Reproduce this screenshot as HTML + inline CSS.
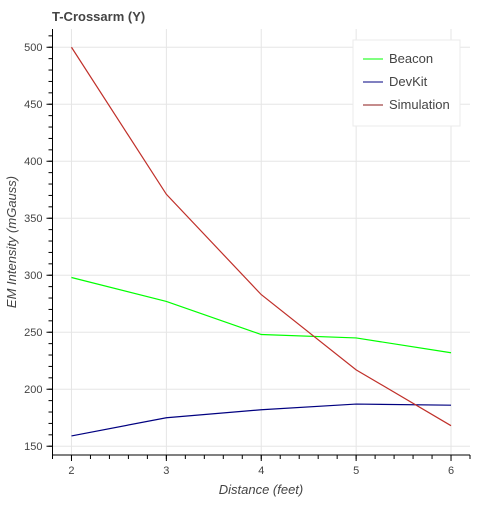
<!DOCTYPE html>
<html><head><meta charset="utf-8"><style>
body{margin:0;background:#fff;}
svg text{font-family:"Liberation Sans",sans-serif;}
</style></head><body>
<svg id="chart" width="500" height="500" xmlns="http://www.w3.org/2000/svg">
<text x="52" y="21" font-size="13" font-weight="bold" fill="#444">T-Crossarm (Y)</text>
<g id="grid"></g><g id="series"></g><g id="axes"></g>
<text x="261" y="494" font-size="13" font-style="italic" fill="#444" text-anchor="middle">Distance (feet)</text>
<text transform="translate(16,242) rotate(-90)" font-size="13" font-style="italic" fill="#444" text-anchor="middle">EM Intensity (mGauss)</text>
<g>
<rect x="353" y="40" width="107" height="86" fill="#fff" stroke="#ebebeb"/>
<line x1="363" y1="59" x2="383" y2="59" stroke="#00ff00"/>
<text x="389" y="63" font-size="13" fill="#444">Beacon</text>
<line x1="363" y1="82" x2="383" y2="82" stroke="#000080"/>
<text x="389" y="86" font-size="13" fill="#444">DevKit</text>
<line x1="363" y1="105" x2="383" y2="105" stroke="#8b1a1a"/>
<text x="389" y="109" font-size="13" fill="#444">Simulation</text>
</g>
</svg>
<script>
const distances=[2,3,4,5,6];
const beacon=[298,277,248,245,232];
const devkit=[159,175,182,187,186];
const simulation=[500,371,283,217,168];
const xTicks=[2,3,4,5,6];
const yTicks=[150,200,250,300,350,400,450,500];
const X0=52.5,X1=470,Y0=455,Y1=29;
const xMin=1.8,xMax=6.2,yMin=142.3,yMax=516;
const sx=v=>X0+(v-xMin)/(xMax-xMin)*(X1-X0);
const sy=v=>Y0-(v-yMin)/(yMax-yMin)*(Y0-Y1);
const NS="http://www.w3.org/2000/svg";
function mk(t,a,p){const e=document.createElementNS(NS,t);for(const k in a)e.setAttribute(k,a[k]);p.appendChild(e);return e;}
const grid=document.getElementById('grid'),axes=document.getElementById('axes'),ser=document.getElementById('series');
xTicks.forEach(t=>{const l=mk('line',{x1:sx(t),x2:sx(t),y1:Y1,y2:Y0,stroke:'#e5e5e5'},grid);


mk('line',{x1:sx(t),x2:sx(t),y1:Y0,y2:Y0+6,stroke:'#000'},axes);
const tx=mk('text',{x:sx(t),y:Y0+19,'font-size':11,fill:'#444','text-anchor':'middle'},axes);tx.textContent=t;

});
for(let v=1.8;v<=6.21;v+=0.2){mk('line',{x1:sx(v),x2:sx(v),y1:Y0,y2:Y0+4,stroke:'#000'},axes);}
yTicks.forEach(t=>{const l=mk('line',{x1:X0,x2:X1,y1:sy(t),y2:sy(t),stroke:'#e5e5e5'},grid);


mk('line',{x1:X0-6,x2:X0,y1:sy(t),y2:sy(t),stroke:'#000'},axes);
const tx=mk('text',{x:X0-10,y:sy(t)+4,'font-size':11,fill:'#444','text-anchor':'end'},axes);tx.textContent=t;

});
for(let v=150;v<=510;v+=10){mk('line',{x1:X0-4,x2:X0,y1:sy(v),y2:sy(v),stroke:'#000'},axes);}
mk('line',{x1:X0,x2:X1,y1:Y0,y2:Y0,stroke:'#000'},axes);
mk('line',{x1:X0,x2:X0,y1:Y1,y2:Y0,stroke:'#000'},axes);
[[beacon,'#00ff00','beacon-line'],[devkit,'#000080','devkit-line'],[simulation,'#c0302a','simulation-line']].forEach(([d,c,n])=>{
const p=mk('polyline',{points:d.map((v,i)=>sx(distances[i])+','+sy(v)).join(' '),fill:'none',stroke:c,'stroke-width':1.2},ser);

});
</script>
</body></html>
